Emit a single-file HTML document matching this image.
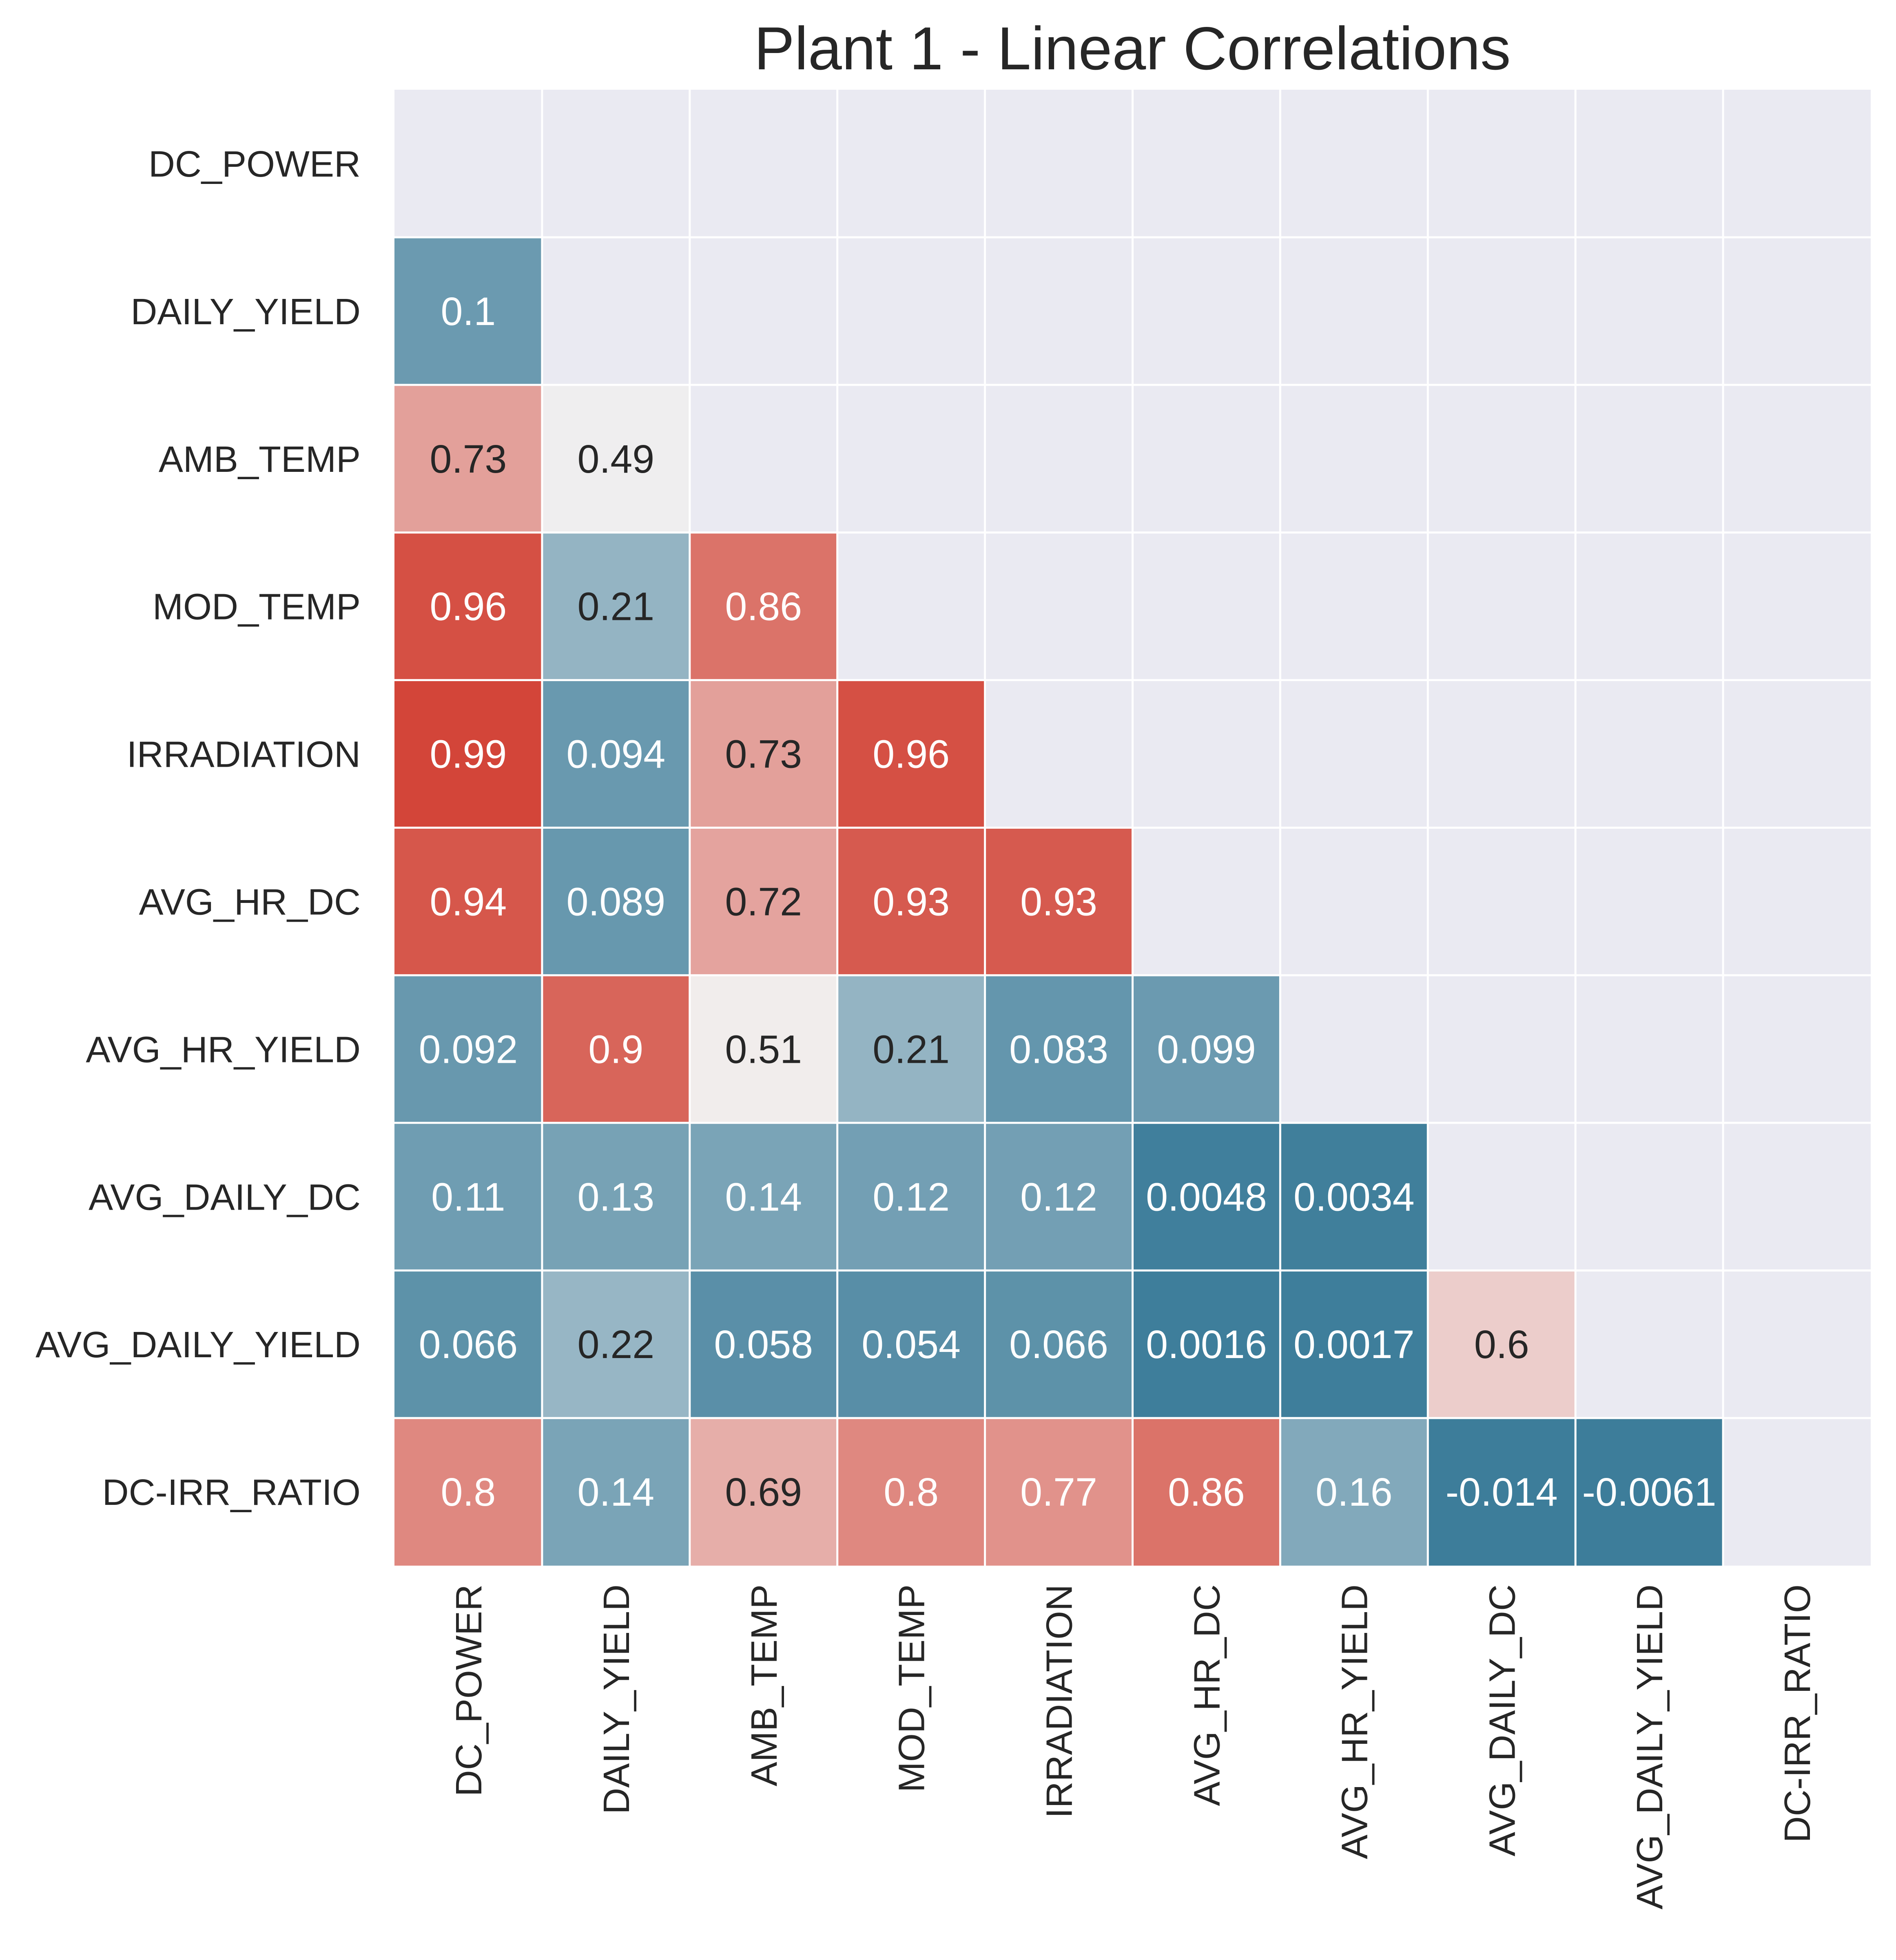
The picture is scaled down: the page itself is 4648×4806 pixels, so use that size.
<!DOCTYPE html>
<html><head><meta charset="utf-8"><style>html,body{margin:0;padding:0;background:#fff}svg{display:block}</style></head>
<body>
<svg id="chart" width="4648" height="4806" xmlns="http://www.w3.org/2000/svg" font-family="'Liberation Sans', Arial, sans-serif">
<rect width="4648" height="4806" fill="#ffffff"/>
<text x="2776" y="170" font-size="149" text-anchor="middle" fill="#262626">Plant 1 - Linear Correlations</text>
<g id="plot"></g>
</svg>
<script>
const labels = ["DC_POWER","DAILY_YIELD","AMB_TEMP","MOD_TEMP","IRRADIATION","AVG_HR_DC","AVG_HR_YIELD","AVG_DAILY_DC","AVG_DAILY_YIELD","DC-IRR_RATIO"];
const row1 = [0.1];
const row2 = [0.73,0.49];
const row3 = [0.96,0.21,0.86];
const row4 = [0.99,0.094,0.73,0.96];
const row5 = [0.94,0.089,0.72,0.93,0.93];
const row6 = [0.092,0.9,0.51,0.21,0.083,0.099];
const row7 = [0.11,0.13,0.14,0.12,0.12,0.0048,0.0034];
const row8 = [0.066,0.22,0.058,0.054,0.066,0.0016,0.0017,0.6];
const row9 = [0.8,0.14,0.69,0.8,0.77,0.86,0.16,-0.014,-0.0061];
const rows = [[],row1,row2,row3,row4,row5,row6,row7,row8,row9];

const L=967,T=220,W=3619,H=3619,n=labels.length,cw=W/n,ch=H/n;
const xs=i=>L+i*cw, ys=j=>T+j*ch;
const NS="http://www.w3.org/2000/svg";
const g=document.getElementById('plot');
function mk(tag,attrs){const e=document.createElementNS(NS,tag);for(const k in attrs)e.setAttribute(k,attrs[k]);g.appendChild(e);return e;}
const lo=[61,125,154],mid=[242,240,240],hi=[210,66,53];
function color(v){v=Math.max(0,Math.min(1,v));let a,b,t;if(v<0.5){a=lo;b=mid;t=Math.pow(v/0.5,0.85);}else{a=mid;b=hi;t=(v-0.5)/0.5;}return a.map((c,i)=>Math.round(c+(b[i]-c)*t));}
function lum(c){const f=x=>{x/=255;return x<=0.03928?x/12.92:Math.pow((x+0.055)/1.055,2.4)};return 0.2126*f(c[0])+0.7152*f(c[1])+0.0722*f(c[2]);}

const bg=mk('rect',{x:L,y:T,width:W,height:H,fill:'#eaeaf2'});


for(let j=0;j<n;j++){for(let i=0;i<rows[j].length;i++){
  const v=rows[j][i],c=color(v);
  const r=mk('rect',{x:xs(i),y:ys(j),width:cw,height:ch,fill:`rgb(${c.join(',')})`});
  
  
}}
for(let k=1;k<n;k++){
  const a=mk('line',{x1:xs(k),x2:xs(k),y1:T,y2:T+H,stroke:'#ffffff','stroke-width':5});
  
  
  const b=mk('line',{x1:L,x2:L+W,y1:ys(k),y2:ys(k),stroke:'#ffffff','stroke-width':5});
  
  
}
for(let j=0;j<n;j++){for(let i=0;i<rows[j].length;i++){
  const v=rows[j][i],c=color(v);
  const t=mk('text',{x:xs(i)+cw/2,y:ys(j)+ch/2+34,'font-size':97,'text-anchor':'middle',fill:(v>=0.2&&v<=0.75)?'#262626':'#ffffff'});
  t.textContent=String(v);
  
  
}}
labels.forEach((lab,j)=>{
  const t=mk('text',{x:884,y:ys(j)+ch/2+32,'font-size':90,'text-anchor':'end',fill:'#262626'});
  t.textContent=lab;
  
  
});
labels.forEach((lab,i)=>{
  const x=xs(i)+cw/2+32,y=3885;
  const t=mk('text',{x:x,y:y,'font-size':90,'text-anchor':'end',fill:'#262626',transform:`rotate(-90 ${x} ${y})`});
  t.textContent=lab;
  
  
});
</script>
</body></html>
